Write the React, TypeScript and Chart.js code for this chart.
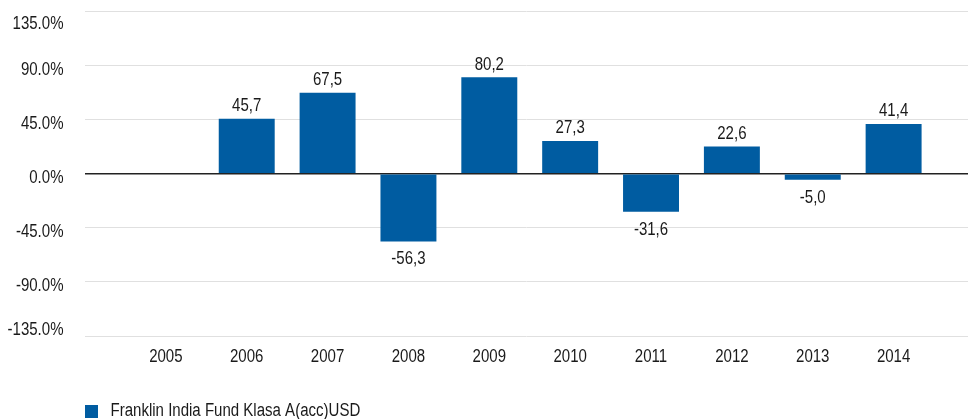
import React, { useEffect, useRef } from "react";
import { Chart, registerables } from "chart.js";

Chart.register(...registerables);

const years = [2005, 2006, 2007, 2008, 2009, 2010, 2011, 2012, 2013, 2014];
const returns: (number | null)[] = [null, 45.7, 67.5, -56.3, 80.2, 27.3, -31.6, 22.6, -5.0, 41.4];
const seriesName = "Franklin India Fund Klasa A(acc)USD";
const yMin = -135;
const yMax = 135;
const yStep = 45;

const FONT = "'Liberation Sans', Arial, sans-serif";
const FONT_SIZE = 18;
const NARROW = 0.835;
const BAR_COLOR = "#005ca1";
const TEXT_COLOR = "#1a1a1a";

function narrowText(ctx: any, txt: string, x: number, y: number, align: "left" | "center" | "right") {
  ctx.save();
  ctx.font = `${FONT_SIZE}px ${FONT}`;
  ctx.fillStyle = TEXT_COLOR;
  ctx.textAlign = align;
  ctx.textBaseline = "middle";
  ctx.translate(x, y);
  ctx.scale(NARROW, 1);
  ctx.fillText(txt, 0, 0);
  ctx.restore();
}

const valueLabels = {
  id: "valueLabels",
  afterDatasetsDraw(chart: any) {
    const meta = chart.getDatasetMeta(0);
    meta.data.forEach((el: any, i: number) => {
      const v = returns[i];
      if (v === null || v === undefined) return;
      const txt = v.toFixed(1).replace(".", ",");
      const y = v >= 0 ? el.y - 12.5 : el.y + 18;
      narrowText(chart.ctx, txt, el.x, y, "center");
    });
  },
};

const axisLabels = {
  id: "axisLabels",
  afterDraw(chart: any) {
    const ys = chart.scales.y;
    const xs = chart.scales.x;
    const area = chart.chartArea;
    ys.ticks.forEach((t: any) => {
      const py = ys.getPixelForValue(t.value);
      let off = 4.5;
      if (t.value === yMax) off = 12.5;
      else if (t.value === yMin) off = -5.5;
      narrowText(chart.ctx, t.value.toFixed(1) + "%", area.left - 21.5, py + off, "right");
    });
    years.forEach((yr) => {
      narrowText(chart.ctx, String(yr), xs.getPixelForValue(yr), area.bottom + 21, "center");
    });
    const ctx = chart.ctx;
    ctx.save();
    ctx.fillStyle = BAR_COLOR;
    ctx.fillRect(area.left, 405, 13, 13);
    ctx.restore();
    narrowText(ctx, seriesName, area.left + 25.5, 411.5, "left");
  },
};

export default function App() {
  const ref = useRef<HTMLCanvasElement | null>(null);

  useEffect(() => {
    document.body.style.margin = "0";
    const canvas = ref.current;
    if (!canvas) return;
    const chart = new Chart(canvas, {
      type: "bar",
      data: {
        datasets: [
          {
            label: seriesName,
            data: years.map((x, i) => ({ x, y: returns[i] })) as any,
            backgroundColor: BAR_COLOR,
            borderWidth: 0,
            barPercentage: 0.692,
            categoryPercentage: 1,
          },
        ],
      },
      options: {
        animation: false,
        responsive: true,
        maintainAspectRatio: false,
        layout: { padding: { top: 11.5, left: 75, right: 0, bottom: 27 } },
        plugins: {
          tooltip: { enabled: false },
          legend: { display: false },
        },
        scales: {
          x: {
            type: "linear",
            min: 2004,
            max: 2014.92,
            offset: false,
            grid: { display: false, offset: false },
            border: { display: false },
            ticks: { display: false },
            afterBuildTicks: (s: any) => {
              s.ticks = years.map((v) => ({ value: v }));
            },
            afterFit: (s: any) => {
              s.height = 56;
            },
          },
          y: {
            min: yMin,
            max: yMax,
            grid: {
              drawTicks: false,
              color: (c: any) => (c.tick && c.tick.value === 0 ? "#222222" : "#e0e0e0"),
              lineWidth: (c: any) => (c.tick && c.tick.value === 0 ? 1.5 : 1),
            },
            border: { display: false },
            ticks: { stepSize: yStep, display: false },
            afterFit: (s: any) => {
              s.width = 10;
            },
          },
        },
      },
      plugins: [valueLabels, axisLabels],
    });
    return () => chart.destroy();
  }, []);

  return (
    <div style={{ position: "relative", width: "968px", height: "419px" }}>
      <canvas ref={ref} />
    </div>
  );
}
